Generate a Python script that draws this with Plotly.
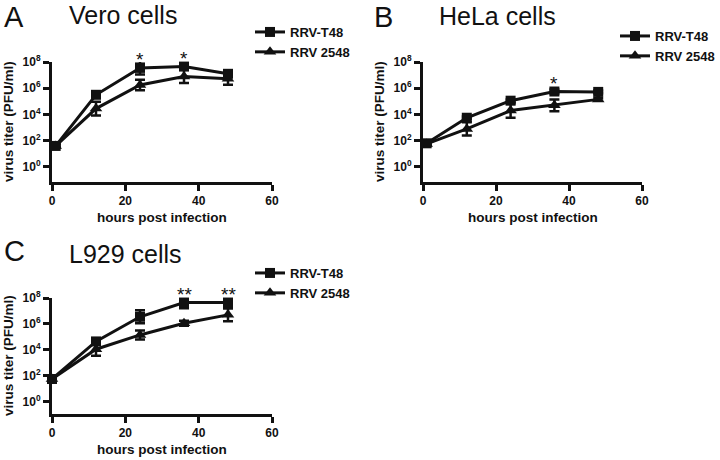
import plotly.graph_objects as go

# ---------------- data (log10 PFU/ml) ----------------
hours_AB = [1, 12, 24, 36, 48]
hours_C = [0, 12, 24, 36, 48]

A_T48 = [1.6, 5.5, 7.55, 7.65, 7.1]
A_T48_err = [0.1, 0.15, 0.5, 0.25, 0.15]
A_2548 = [1.6, 4.45, 6.25, 6.9, 6.72]
A_2548_err = [0.1, 0.52, 0.4, 0.5, 0.45]
A_sig = ["", "", "*", "*", ""]

B_T48 = [1.8, 3.75, 5.05, 5.75, 5.72]
B_T48_err = [0.1, 0.1, 0.1, 0.15, 0.1]
B_2548 = [1.75, 2.9, 4.3, 4.7, 5.15]
B_2548_err = [0.1, 0.5, 0.55, 0.45, 0.1]
B_sig = ["", "", "", "*", ""]

C_T48 = [1.75, 4.65, 6.55, 7.65, 7.65]
C_T48_err = [0.1, 0.15, 0.5, 0.45, 0.45]
C_2548 = [1.75, 4.05, 5.15, 6.05, 6.7]
C_2548_err = [0.1, 0.5, 0.35, 0.2, 0.5]
C_sig = ["", "", "", "**", "**"]

panel_letters = ["A", "B", "C"]
panel_titles = ["Vero cells", "HeLa cells", "L929 cells"]
series_names = ["RRV-T48", "RRV 2548"]
x_ticks = [0, 20, 40, 60]
y_exps = [0, 2, 4, 6, 8]

FONT = "Liberation Sans, Arial, sans-serif"
INK = "#111111"

fig = go.Figure()


def err_arrays(m, e):
    y = [10 ** v for v in m]
    up = [10 ** (v + d) - 10 ** v for v, d in zip(m, e)]
    dn = [10 ** v - 10 ** (v - d) for v, d in zip(m, e)]
    return y, up, dn


panels = [
    (hours_AB, A_T48, A_T48_err, A_2548, A_2548_err, A_sig),
    (hours_AB, B_T48, B_T48_err, B_2548, B_2548_err, B_sig),
    (hours_C, C_T48, C_T48_err, C_2548, C_2548_err, C_sig),
]
legend_names = ["legend", "legend2", "legend3"]
annotations = []

for i, (hrs, t48, t48e, s25, s25e, sig) in enumerate(panels):
    xa = "x" if i == 0 else f"x{i+1}"
    ya = "y" if i == 0 else f"y{i+1}"
    y2, up2, dn2 = err_arrays(s25, s25e)
    fig.add_trace(go.Scatter(
        x=hrs, y=y2, mode="lines+markers", name=series_names[1],
        line=dict(color=INK, width=3),
        marker=dict(symbol="triangle-up", size=11, color=INK),
        error_y=dict(type="data", array=up2, arrayminus=dn2, color=INK,
                     thickness=2.5, width=5),
        xaxis=xa, yaxis=ya, legend=legend_names[i], legendrank=2,
        cliponaxis=False,
    ))
    y1, up1, dn1 = err_arrays(t48, t48e)
    fig.add_trace(go.Scatter(
        x=hrs, y=y1, mode="lines+markers", name=series_names[0],
        line=dict(color=INK, width=3),
        marker=dict(symbol="square", size=10, color=INK),
        error_y=dict(type="data", array=up1, arrayminus=dn1, color=INK,
                     thickness=2.5, width=5),
        xaxis=xa, yaxis=ya, legend=legend_names[i], legendrank=1,
        cliponaxis=False,
    ))
    # significance stars just above the RRV-T48 points (log axis -> log10 y)
    for h, m, s in zip(hrs, t48, sig):
        if s:
            annotations.append(dict(
                text=s, x=h, y=m, xref=xa, yref=ya, showarrow=False,
                xanchor="center", yanchor="middle", yshift=8,
                font=dict(family=FONT, size=19, color=INK)))

# panel geometry (pixels -> paper)
W, H = 720, 460
geo = [  # x0, x1, ybottom, ytop (px)
    (52, 272, 182, 62),
    (423, 642, 182, 62),
    (52, 272, 414, 298),
]
y_ranges = [[-1.15, 8], [-1.15, 8], [-0.95, 8]]

axis_common = dict(
    showline=True, linecolor=INK, linewidth=3, ticks="outside",
    tickwidth=2.5, ticklen=6, tickcolor=INK, showgrid=False, zeroline=False,
    tickfont=dict(family=FONT, size=12, color=INK, weight="bold"),
    mirror=False, automargin=False,
)

ytext = [f"10<sup>{e}</sup>" for e in y_exps]
yvals = [10 ** e for e in y_exps]

layout = {}
for i, (x0, x1, yb, yt) in enumerate(geo):
    sx = "" if i == 0 else str(i + 1)
    layout[f"xaxis{sx}"] = dict(
        axis_common, domain=[x0 / W, x1 / W], range=[0, 60],
        tickvals=x_ticks, anchor=f"y{sx}",
    )
    layout[f"yaxis{sx}"] = dict(
        axis_common, domain=[1 - yb / H, 1 - yt / H], type="log",
        range=y_ranges[i], tickvals=yvals, ticktext=ytext,
        anchor=f"x{sx}",
    )

# (x, anchor, y_top) in px
legend_pos = [(250, "left", 17), (720, "right", 21), (250, "left", 258)]
for i, (lx, anc, ly) in enumerate(legend_pos):
    layout[legend_names[i]] = dict(
        x=lx / W, y=1 - ly / H, xanchor=anc, yanchor="top",
        bgcolor="rgba(0,0,0,0)", traceorder="normal",
        font=dict(family=FONT, size=13, color=INK, weight="bold"),
        itemwidth=30,
    )

letter_pos = [(14, 17), (383, 17), (14, 251)]
title_pos = [(67, 15), (437, 16), (67, 254)]
for i in range(3):
    lx, ly = letter_pos[i]
    annotations.append(dict(text=panel_letters[i], x=lx / W, y=1 - ly / H,
                            xref="paper", yref="paper", showarrow=False,
                            xanchor="center", yanchor="middle",
                            font=dict(family=FONT, size=29, color=INK)))
    tx, ty = title_pos[i]
    annotations.append(dict(text=panel_titles[i], x=tx / W, y=1 - ty / H,
                            xref="paper", yref="paper", showarrow=False,
                            xanchor="left", yanchor="middle",
                            font=dict(family=FONT, size=25, color=INK)))
    x0, x1, yb, yt = geo[i]
    annotations.append(dict(text="hours post infection",
                            x=(x0 + x1) / 2 / W, y=1 - (yb + 35) / H,
                            xref="paper", yref="paper", showarrow=False,
                            xanchor="center", yanchor="middle",
                            font=dict(family=FONT, size=13.5, color=INK, weight="bold")))
    annotations.append(dict(text="virus titer (PFU/ml)", textangle=-90,
                            x=(x0 - 44) / W, y=1 - (yb + yt) / 2 / H,
                            xref="paper", yref="paper", showarrow=False,
                            xanchor="center", yanchor="middle",
                            font=dict(family=FONT, size=13.5, color=INK, weight="bold")))

fig.update_layout(
    width=W, height=H, margin=dict(l=0, r=0, t=0, b=0),
    paper_bgcolor="white", plot_bgcolor="white",
    font=dict(family=FONT, color=INK),
    showlegend=True, annotations=annotations, **layout,
)

fig.write_html("out.html", config={"displayModeBar": False},
               post_script="document.body.style.margin='0';")
